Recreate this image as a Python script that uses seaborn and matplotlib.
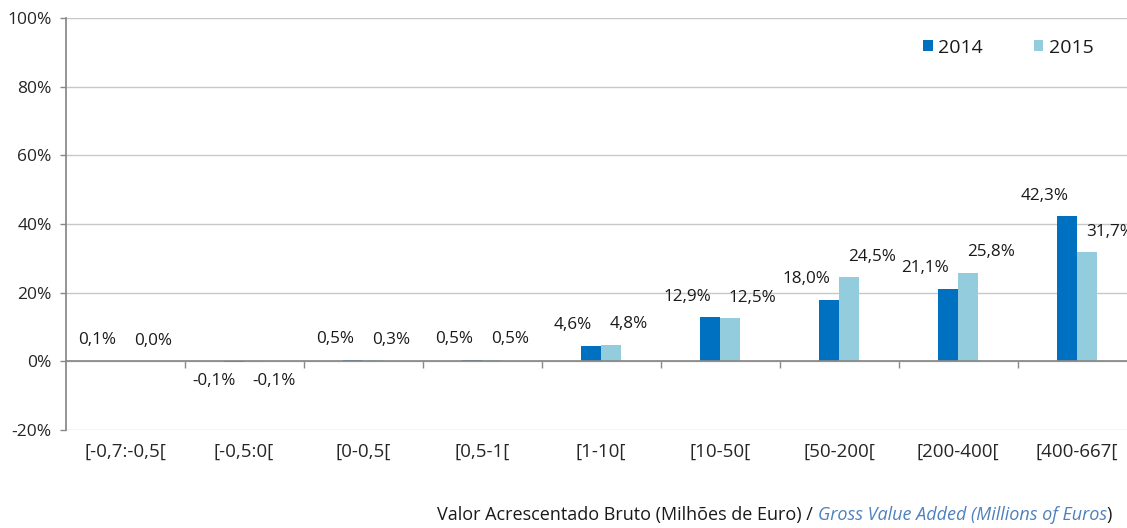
import matplotlib
matplotlib.use("Agg")
import matplotlib.pyplot as plt
import seaborn as sns
import pandas as pd
from matplotlib.offsetbox import TextArea, HPacker, AnchoredOffsetbox

CATEGORIES = ["[-0,7:-0,5[", "[-0,5:0[", "[0-0,5[", "[0,5-1[", "[1-10[",
              "[10-50[", "[50-200[", "[200-400[", "[400-667["]
YEARS = ["2014", "2015"]
VALUES_2014 = [0.1, -0.1, 0.5, 0.5, 4.6, 12.9, 18.0, 21.1, 42.3]
VALUES_2015 = [0.0, -0.1, 0.3, 0.5, 4.8, 12.5, 24.5, 25.8, 31.7]
Y_TICKS = [-20, 0, 20, 40, 60, 80, 100]

COLORS = {"2014": "#0070C0", "2015": "#93CDDD"}
FONT = "Open Sans"

sns.set_theme(style="white")
plt.rcParams["font.family"] = [FONT, "DejaVu Sans"]
plt.rcParams["text.color"] = "#1a1a1a"


def pct(v):
    return f"{v:.1f}%".replace(".", ",")


def main():
    df = pd.DataFrame({
        "cat": CATEGORIES * 2,
        "year": [YEARS[0]] * len(CATEGORIES) + [YEARS[1]] * len(CATEGORIES),
        "value": VALUES_2014 + VALUES_2015,
    })

    fig = plt.figure(figsize=(11.27, 5.28), dpi=100)
    ax = fig.add_axes([65.5 / 1127, 98 / 528, 1071 / 1127, 412 / 528])

    sns.barplot(data=df, x="cat", y="value", hue="year", palette=COLORS,
                width=0.34, saturation=1, ax=ax, legend=True,
                edgecolor="none", linewidth=0)

    ax.set_ylim(-20, 100)
    ax.set_xlim(-0.5, len(CATEGORIES) - 0.5)
    ax.set_yticks(Y_TICKS)
    ax.set_yticklabels([f"{t}%" for t in Y_TICKS], fontsize=12.5)
    ax.yaxis.grid(True, color="#C8C8C8", linewidth=1)
    ax.set_axisbelow(True)

    for side in ["top", "right"]:
        ax.spines[side].set_visible(False)
    ax.spines["left"].set_color("#888888")
    ax.spines["bottom"].set_color("#888888")
    ax.spines["bottom"].set_position(("data", 0))

    ax.tick_params(axis="y", length=4, width=1, color="#888888", pad=6,
                   left=True)
    ax.set_xticks([i + 0.5 for i in range(len(CATEGORIES) - 1)], minor=True)
    ax.tick_params(axis="x", which="minor", length=5, width=1,
                   color="#888888", bottom=True, direction="out")
    ax.tick_params(axis="x", which="major", length=0, pad=59, labelsize=13.5)
    ax.set_xlabel("")
    ax.set_ylabel("")

    # data labels: 2014 to the left of its bar, 2015 to the right
    for k, container in enumerate(ax.containers):
        for bar in container:
            h = bar.get_height()
            x = bar.get_x() + bar.get_width() / 2
            ha, dx = ("right", 1) if k == 0 else ("left", -1)
            if h < 0:
                ax.annotate(pct(h), (x, h), xytext=(dx, -8),
                            textcoords="offset points", ha=ha, va="top",
                            fontsize=12.3)
            else:
                ax.annotate(pct(h), (x, h), xytext=(dx, 9),
                            textcoords="offset points", ha=ha, va="bottom",
                            fontsize=12.3)

    ax.legend(loc="upper right", bbox_to_anchor=(1046 / 1071, 0.992),
              ncol=2, frameon=False, fontsize=14, handlelength=0.5,
              handleheight=0.5, handletextpad=0.3, columnspacing=2.6)

    # bilingual axis title at bottom right
    size = 13
    parts = [
        TextArea("Valor Acrescentado Bruto (Milhões de Euro) / ",
                 textprops=dict(fontsize=size, color="#1a1a1a", family=[FONT])),
        TextArea("Gross Value Added (Millions of Euros",
                 textprops=dict(fontsize=size, color="#4F81BD",
                                style="italic", family=[FONT])),
        TextArea(")", textprops=dict(fontsize=size, color="#1a1a1a",
                                     family=[FONT])),
    ]
    box = HPacker(children=parts, align="baseline", pad=0, sep=0)
    anchored = AnchoredOffsetbox(loc="lower right", child=box, pad=0,
                                 frameon=False, borderpad=0,
                                 bbox_to_anchor=(1112 / 1127, 4 / 528),
                                 bbox_transform=fig.transFigure)
    fig.add_artist(anchored)

    fig.savefig("out.png", dpi=100)
    plt.close(fig)


if __name__ == "__main__":
    main()
